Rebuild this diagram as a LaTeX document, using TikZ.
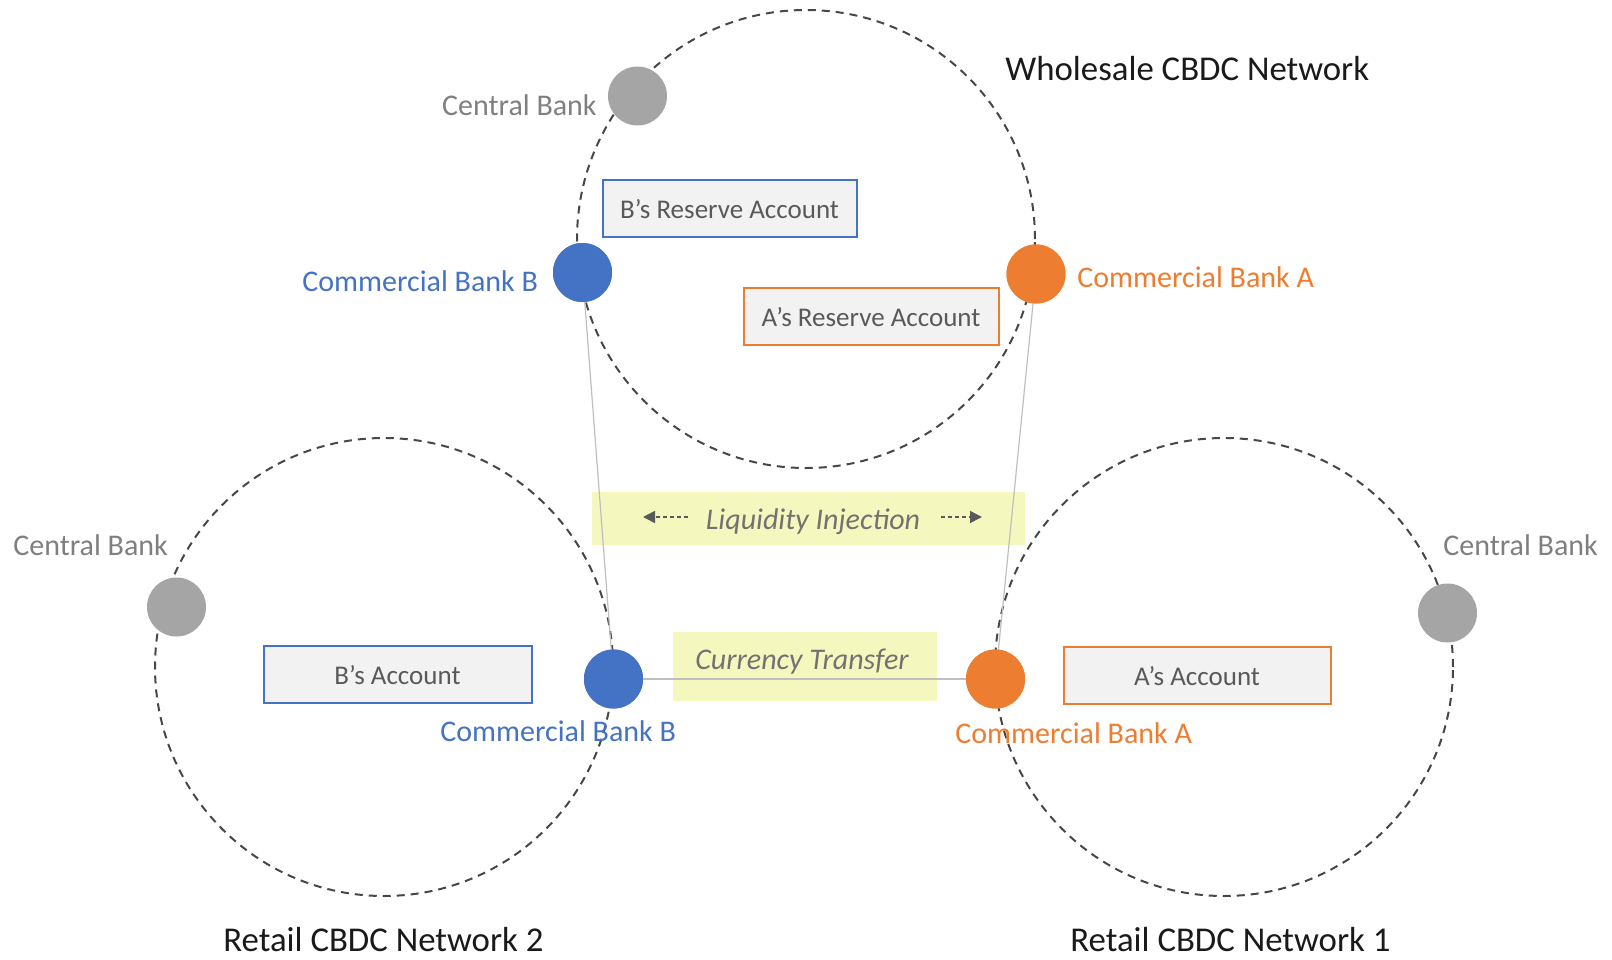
\documentclass[tikz,border=0pt]{standalone}
\usepackage{fontspec}
\setmainfont{Carlito}
\usetikzlibrary{arrows.meta}

\definecolor{ringgray}{HTML}{474747}
\definecolor{bankblue}{HTML}{4472C4}
\definecolor{bankorange}{HTML}{ED7D31}
\definecolor{cbgray}{HTML}{A5A5A5}
\definecolor{cblabel}{HTML}{7F7F7F}
\definecolor{boxfill}{HTML}{F2F2F2}
\definecolor{boxtext}{HTML}{595959}
\definecolor{hilite}{HTML}{F5F8BE}
\definecolor{flowtext}{HTML}{757171}
\definecolor{linkgray}{HTML}{BFBFBF}
\definecolor{titletext}{HTML}{1A1A1A}

\tikzset{
  ring/.style={circle, draw=ringgray, line width=1pt, dash pattern=on 4pt off 3pt,
    minimum size=229pt, inner sep=0pt},
  dot/.style={circle, minimum size=29.5pt, inner sep=0pt},
  cbdot/.style={dot, fill=cbgray},
  bdot/.style={dot, fill=bankblue},
  adot/.style={dot, fill=bankorange},
  lbl/.style={inner sep=0pt, font=\fontsize{15}{18}\selectfont},
  cblbl/.style={lbl, text=cblabel, anchor=base west},
  blbl/.style={lbl, text=bankblue, anchor=base west},
  albl/.style={lbl, text=bankorange, anchor=base west},
  title/.style={inner sep=0pt, anchor=base west, text=titletext,
    font=\fontsize{17.4}{20}\selectfont},
  acct/.style={draw, fill=boxfill, line width=1pt, text=boxtext, inner sep=0pt,
    text height=10pt, text depth=0pt, minimum height=28.5pt,
    font=\fontsize{13.5}{16}\selectfont},
  bacct/.style={acct, draw=bankblue},
  aacct/.style={acct, draw=bankorange},
  hbox/.style={fill=hilite, inner sep=0pt},
  flowlbl/.style={inner sep=0pt, anchor=base, text=flowtext,
    font=\fontsize{15}{18}\selectfont\itshape},
  link/.style={draw=linkgray, line width=0.6pt},
  flow/.style={draw=boxtext, line width=0.8pt, dash pattern=on 2pt off 1.5pt,
    -{Triangle[length=6pt,width=6pt]}},
}

\begin{document}
\begin{tikzpicture}[x=0.5pt,y=-0.5pt]
\useasboundingbox (0,0) rectangle (1612,959);

% the three networks
\node[ring] (wnet)  at (806,239) {};
\node[ring] (rnet2) at (384,667) {};
\node[ring] (rnet1) at (1224,667) {};

% highlighted bands
\node[hbox, minimum width=132pt, minimum height=34.5pt] (ctbox) at (805,666.5) {};
\node[hbox, minimum width=216.5pt, minimum height=26.5pt] (libox) at (808.5,518.5) {};

% banks
\node[bdot] (bTop) at (582.5,272.5) {};
\node[adot] (aTop) at (1036,274) {};
\node[bdot] (bBot) at (613.5,679) {};
\node[adot] (aBot) at (995.5,679) {};

% links between the banks' nodes
\draw[link] (bTop.center) -- (bBot.center);
\draw[link] (aTop.center) -- (aBot.center);
\draw[link] (bBot.center) -- (aBot.center);

% redraw bank dots over the links
\node[bdot] at (bTop) {};
\node[adot] at (aTop) {};
\node[bdot] at (bBot) {};
\node[adot] at (aBot) {};

% central banks
\node[cbdot] (cbW) at (637.5,96) {};
\node[cbdot] (cbR2) at (176.5,607) {};
\node[cbdot] (cbR1) at (1447.5,613) {};

% band texts and arrows
\node[flowlbl] (litext) at (813,529) {Liquidity Injection};
\coordinate (liLtail) at (688,517);
\coordinate (liLtip) at (643,517);
\coordinate (liRtail) at (941,517);
\coordinate (liRtip) at (982,517);
\draw[flow] (liLtail) -- (liLtip);
\draw[flow] (liRtail) -- (liRtip);

\node[flowlbl] (cttext) at (802,669) {Currency Transfer};

% accounts
\node[bacct, minimum width=127pt] (bres) at (729.5,208.5) {B’s Reserve Account};
\node[aacct, minimum width=127.5pt] (ares) at (871,316) {A’s Reserve Account};
\node[bacct, minimum width=134pt] (bacc) at (397.5,674) {B’s Account};
\node[aacct, minimum width=133.5pt] (aacc) at (1197,675) {A’s Account};

% labels
\node[cblbl, anchor=base east] (cbWl) at (597,115) {Central Bank};
\node[cblbl] (cbR2l) at (13,555) {Central Bank};
\node[cblbl] (cbR1l) at (1443,555) {Central Bank};
\node[blbl] (bTopl) at (302,291) {Commercial Bank B};
\node[albl] (aTopl) at (1077,287) {Commercial Bank A};
\node[blbl] (bBotl) at (440,741) {Commercial Bank B};
\node[albl] (aBotl) at (955,743) {Commercial Bank A};

% network titles
\node[title] (wtitle)  at (1005,80) {Wholesale CBDC Network};
\node[title] (r2title) at (223,951) {Retail CBDC Network 2};
\node[title] (r1title) at (1070,951) {Retail CBDC Network 1};
\end{tikzpicture}
\end{document}
